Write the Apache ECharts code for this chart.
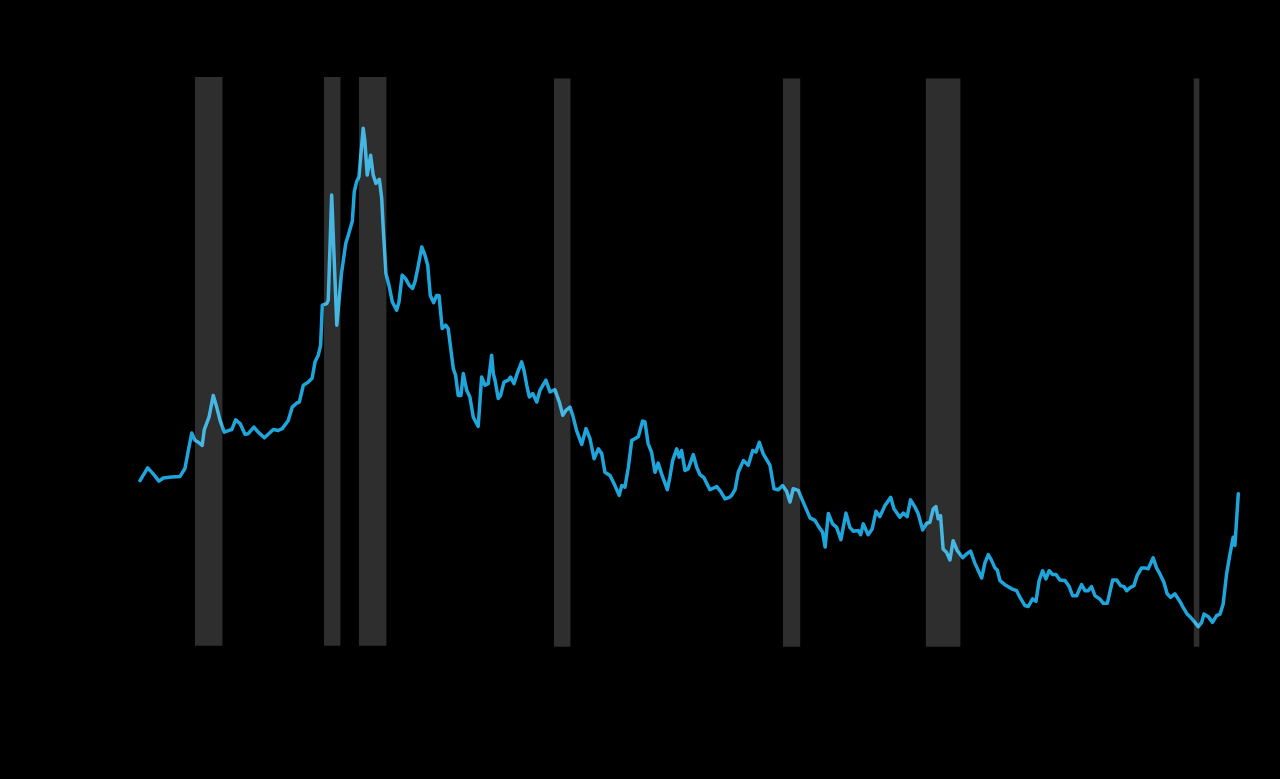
<!DOCTYPE html>
<html>
<head>
<meta charset="utf-8">
<style>
  html, body { margin: 0; padding: 0; background: #000; }
  #chart { width: 1280px; height: 779px; }
</style>
<script src="https://cdn.jsdelivr.net/npm/echarts@6/dist/echarts.min.js"></script>
</head>
<body>
<div id="chart"></div>
<script>
// Decimal year of each observation
const years = [
  1971.25,1971.61,1971.87,1972.14,1972.34,1972.74,1973.13,1973.36,1973.52,1973.68,
  1973.83,1973.99,1974.17,1974.27,1974.49,1974.69,1974.85,1975.01,1975.21,1975.40,
  1975.56,1975.74,1975.95,1976.18,1976.33,1976.60,1976.80,1977.09,1977.27,1977.51,
  1977.74,1977.93,1978.21,1978.40,1978.61,1978.73,1978.92,1979.15,1979.33,1979.47,
  1979.62,1979.73,1979.81,1980.02,1980.09,1980.25,1980.36,1980.49,1980.59,1980.72,
  1980.91,1981.03,1981.22,1981.31,1981.42,1981.53,1981.73,1981.81,1981.92,1982.08,
  1982.20,1982.33,1982.49,1982.60,1982.67,1982.80,1982.94,1983.10,1983.30,1983.41,
  1983.56,1983.72,1983.89,1984.05,1984.16,1984.32,1984.48,1984.63,1984.76,1984.88,
  1985.04,1985.18,1985.29,1985.44,1985.60,1985.72,1985.96,1986.07,1986.19,1986.32,
  1986.43,1986.59,1986.74,1986.90,1987.13,1987.29,1987.45,1987.60,1987.76,1987.84,
  1987.92,1988.07,1988.18,1988.34,1988.54,1988.65,1988.81,1988.96,1989.17,1989.28,
  1989.41,1989.53,1989.69,1989.88,1990.03,1990.31,1990.50,1990.73,1990.94,1991.10,
  1991.25,1991.44,1991.57,1991.75,1991.99,1992.19,1992.38,1992.57,1992.77,1992.93,
  1993.08,1993.32,1993.55,1993.75,1993.87,1994.02,1994.18,1994.34,1994.49,1994.65,
  1994.85,1994.96,1995.11,1995.27,1995.43,1995.58,1995.74,1996.01,1996.13,1996.26,
  1996.45,1996.57,1996.68,1996.84,1996.99,1997.23,1997.39,1997.54,1997.73,1998.01,
  1998.33,1998.51,1998.72,1998.92,1999.03,1999.19,1999.34,1999.58,1999.81,2000.02,
  2000.17,2000.33,2000.51,2000.83,2001.02,2001.22,2001.42,2001.61,2001.77,2001.92,
  2002.16,2002.39,2002.71,2002.94,2003.14,2003.30,2003.42,2003.57,2003.77,2003.96,
  2004.16,2004.40,2004.58,2004.74,2004.97,2005.09,2005.21,2005.44,2005.63,2005.81,
  2005.99,2006.23,2006.50,2006.65,2006.93,2007.09,2007.27,2007.43,2007.64,2007.79,
  2008.00,2008.19,2008.34,2008.50,2008.62,2008.73,2008.84,2008.96,2009.12,2009.28,
  2009.43,2009.62,2009.88,2010.06,2010.25,2010.45,2010.77,2010.92,2011.08,2011.24,
  2011.39,2011.50,2011.63,2011.86,2012.18,2012.41,2012.57,2012.80,2012.96,2013.16,
  2013.32,2013.47,2013.63,2013.79,2013.94,2014.10,2014.26,2014.44,2014.68,2014.88,
  2015.04,2015.23,2015.46,2015.62,2015.77,2015.93,2016.09,2016.32,2016.48,2016.67,
  2016.92,2017.11,2017.29,2017.45,2017.58,2017.73,2017.92,2018.07,2018.28,2018.43,
  2018.59,2018.82,2018.98,2019.14,2019.33,2019.48,2019.64,2019.84,2020.08,2020.23,
  2020.42,2020.58,2020.78,2020.94,2021.10,2021.21,2021.41,2021.61,2021.80,2021.96,
  2022.11,2022.27,2022.43,2022.58,2022.66,2022.82
];
// Rate (%) at each observation
const rates = [
  7.25,7.65,7.46,7.23,7.33,7.36,7.38,7.63,8.20,8.75,
  8.52,8.46,8.36,8.86,9.25,9.94,9.57,9.15,8.78,8.83,
  8.86,9.17,9.05,8.71,8.73,8.94,8.78,8.60,8.71,8.86,
  8.83,8.89,9.15,9.57,9.70,9.73,10.26,10.36,10.48,11.00,
  11.21,11.52,12.79,12.84,12.95,16.27,14.37,12.16,12.89,13.84,
  14.74,15.00,15.45,16.37,16.69,16.85,18.38,17.96,16.90,17.53,
  16.90,16.64,16.77,16.16,15.22,13.79,13.42,12.89,12.63,12.89,
  13.74,13.63,13.42,13.32,13.53,14.05,14.63,14.37,14.05,13.10,
  12.87,13.10,13.10,12.05,12.16,12.05,10.79,10.57,9.94,9.94,
  10.63,10.10,9.89,9.25,8.96,10.52,10.26,10.31,11.21,10.63,
  10.42,9.84,9.94,10.36,10.42,10.52,10.31,10.63,11.00,10.73,
  10.26,9.89,10.00,9.73,10.10,10.42,10.05,10.12,9.73,9.31,
  9.47,9.57,9.31,8.83,8.39,8.89,8.57,7.94,8.25,8.10,
  7.51,7.41,7.09,6.78,7.09,7.04,7.67,8.52,8.57,8.64,
  9.13,9.10,8.41,8.15,7.51,7.80,7.46,6.96,7.36,7.88,
  8.25,7.99,8.20,7.57,7.62,8.07,7.67,7.44,7.34,6.96,
  7.06,6.91,6.67,6.72,6.78,6.96,7.51,7.88,7.73,8.20,
  8.15,8.46,8.10,7.73,6.99,6.96,7.09,6.91,6.57,6.99,
  6.94,6.57,6.07,5.99,5.77,5.62,5.15,6.21,5.88,5.77,
  5.38,6.22,5.77,5.65,5.67,5.54,5.88,5.54,5.72,6.28,
  6.11,6.46,6.72,6.36,6.09,6.22,6.11,6.64,6.41,6.20,
  5.69,5.90,5.93,6.36,6.43,6.04,6.14,5.09,4.98,4.74,
  5.35,5.04,4.81,4.93,5.02,4.64,4.17,4.64,4.91,4.72,
  4.49,4.43,4.09,3.96,3.83,3.77,3.56,3.30,3.27,3.51,
  3.43,4.09,4.40,4.14,4.40,4.28,4.28,4.11,4.09,3.90,
  3.61,3.61,3.96,3.77,3.77,3.90,3.61,3.51,3.37,3.37,
  4.11,4.11,3.93,3.90,3.77,3.86,3.93,4.25,4.49,4.49,
  4.46,4.81,4.49,4.30,4.03,3.67,3.56,3.67,3.43,3.24,
  3.03,2.93,2.77,2.63,2.77,3.03,2.95,2.77,2.98,3.03,
  3.35,4.30,4.93,5.46,5.20,6.83
];
// Shaded periods (decimal years): start, end
const bandStarts = [1973.83, 1979.89, 1981.53, 1990.69, 2001.44, 2008.15, 2020.73];
const bandEnds   = [1975.12, 1980.66, 1982.82, 1991.46, 2002.25, 2009.77, 2020.99];
const bandLow    = [2.03, 2.03, 2.03, 2.0, 2.0, 2.0, 2.0];
const bandHigh   = [20.0, 20.0, 20.0, 19.95, 19.95, 19.95, 19.95];

const seriesData = years.map((y, i) => [y, rates[i]]);
const areas = bandStarts.map((s, i) => [
  { xAxis: s, yAxis: bandLow[i] },
  { xAxis: bandEnds[i], yAxis: bandHigh[i] }
]);

const chart = echarts.init(document.getElementById('chart'), null, { renderer: 'canvas' });
chart.setOption({
  backgroundColor: '#000000',
  animation: false,
  grid: { left: 140, right: 41.7, top: 77, bottom: 132.3 },
  xAxis: {
    type: 'value', min: 1971.25, max: 2022.82,
    axisLine: { show: false }, axisTick: { show: false },
    axisLabel: { show: false }, splitLine: { show: false }
  },
  yAxis: {
    type: 'value', min: 2, max: 20,
    axisLine: { show: false }, axisTick: { show: false },
    axisLabel: { show: false }, splitLine: { show: false }
  },
  series: [
    {
      type: 'line',
      data: seriesData,
      showSymbol: false,
      z: 2,
      lineStyle: { color: '#1ea6dc', width: 3.5, join: 'round', cap: 'round' }
    },
    {
      type: 'line',
      data: [],
      z: 5,
      markArea: {
        silent: true,
        z: 10,
        itemStyle: { color: 'rgba(255,255,255,0.18)' },
        data: areas
      }
    }
  ]
});
</script>
</body>
</html>
